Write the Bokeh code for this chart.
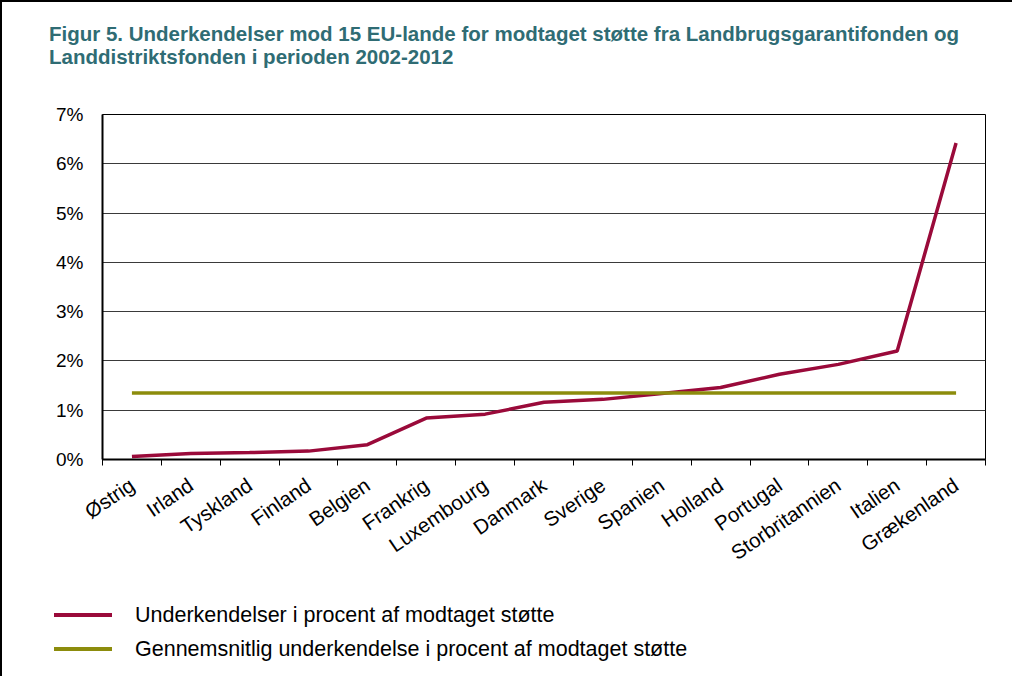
import numpy as np
from bokeh.plotting import figure
from bokeh.layouts import column
from bokeh.models import Range1d, FixedTicker, PrintfTickFormatter, Div
from bokeh.embed import file_html
from bokeh.resources import INLINE

COUNTRIES = ["Østrig", "Irland", "Tyskland", "Finland", "Belgien", "Frankrig",
             "Luxembourg", "Danmark", "Sverige", "Spanien", "Holland",
             "Portugal", "Storbritannien", "Italien", "Grækenland"]
UNDERKENDELSE_PCT = [0.06, 0.12, 0.14, 0.17, 0.30, 0.84, 0.92, 1.16, 1.22,
                     1.34, 1.46, 1.73, 1.93, 2.20, 6.42]
GENNEMSNIT_PCT = 1.35
Y_TICKS = [0, 1, 2, 3, 4, 5, 6, 7]
TITLE_LINE_1 = "Figur 5. Underkendelser mod 15 EU-lande for modtaget støtte fra Landbrugsgarantifonden og"
TITLE_LINE_2 = "Landdistriktsfonden i perioden 2002-2012"
LEGEND_LABELS = ["Underkendelser i procent af modtaget støtte",
                 "Gennemsnitlig underkendelse i procent af modtaget støtte"]

FONT = "Liberation Sans"
RED = "#9A0A3A"
OLIVE = "#8C8C0C"
TEAL = "#2F6C74"

n = len(COUNTRIES)
xs = np.arange(n)
W = 1010

# ---------------- title ----------------
tstyle = (f"position:absolute;left:47px;white-space:nowrap;"
          f"font-family:'{FONT}';font-size:20.5px;font-weight:bold;"
          f"line-height:23px;height:23px;color:{TEAL};")
title_html = f"""
<div style="position:relative;width:{W}px;height:80px;">
  <div style="{tstyle}top:20px;">{TITLE_LINE_1}</div>
  <div style="{tstyle}top:43px;">{TITLE_LINE_2}</div>
</div>"""
title_div = Div(text=title_html, width=W, height=80, margin=0)

# ---------------- main chart ----------------
p = figure(width=W, height=505, x_range=Range1d(-0.5, n - 0.5),
           y_range=Range1d(0, 7), output_backend="svg", toolbar_location=None,
           min_border_left=100, min_border_right=27, min_border_top=32,
           min_border_bottom=128, margin=0)

p.outline_line_color = "black"
p.outline_line_width = 1
p.background_fill_color = "white"
p.border_fill_color = "white"

p.yaxis.ticker = FixedTicker(ticks=Y_TICKS)
p.yaxis.formatter = PrintfTickFormatter(format="%d%%")
p.yaxis.major_label_text_font = FONT
p.yaxis.major_label_text_font_size = "19px"
p.yaxis.major_label_text_color = "black"
p.yaxis.major_label_standoff = 19
p.yaxis.major_tick_out = 0
p.yaxis.major_tick_in = 0
p.yaxis.minor_tick_out = 0
p.yaxis.minor_tick_in = 0
p.yaxis.axis_line_width = 2
p.yaxis.axis_line_color = "black"

p.ygrid.ticker = FixedTicker(ticks=Y_TICKS)
p.ygrid.grid_line_color = "#3a3a3a"
p.ygrid.grid_line_width = 1
p.xgrid.grid_line_color = None

p.xaxis.ticker = FixedTicker(ticks=list(xs),
                             minor_ticks=list(np.arange(n + 1) - 0.5))
p.xaxis.major_label_overrides = {int(i): c for i, c in zip(xs, COUNTRIES)}
p.xaxis.major_label_orientation = 0.6
p.xaxis.major_label_text_font = FONT
p.xaxis.major_label_text_font_size = "20.5px"
p.xaxis.major_label_text_color = "black"
p.xaxis.major_label_standoff = 17
p.xaxis.major_tick_line_color = None
p.xaxis.minor_tick_out = 6
p.xaxis.minor_tick_in = 0
p.xaxis.minor_tick_line_color = "black"
p.xaxis.minor_tick_line_width = 1
p.xaxis.axis_line_width = 2
p.xaxis.axis_line_color = "black"

p.line(xs, UNDERKENDELSE_PCT, line_color=RED, line_width=3.5)
p.line([xs[0], xs[-1]], [GENNEMSNIT_PCT, GENNEMSNIT_PCT],
       line_color=OLIVE, line_width=3.5)

# ---------------- legend ----------------
legend_html = f"""
<div style="position:relative;width:{W}px;height:89px;
            font-family:'{FONT}';font-size:21.5px;color:black;">
  <div style="position:absolute;left:52px;top:26px;width:58px;height:4px;
              background:{RED};"></div>
  <div style="position:absolute;left:133px;top:16px;line-height:24px;
              white-space:nowrap;">{LEGEND_LABELS[0]}</div>
  <div style="position:absolute;left:52px;top:60px;width:58px;height:4px;
              background:{OLIVE};"></div>
  <div style="position:absolute;left:133px;top:50px;line-height:24px;
              white-space:nowrap;">{LEGEND_LABELS[1]}</div>
</div>"""
legend_div = Div(text=legend_html, width=W, height=89, margin=0)

layout = column(title_div, p, legend_div, spacing=0)
layout.styles = {"border-left": "2px solid black",
                 "border-top": "2px solid black"}

open("out.html", "w").write(file_html(layout, INLINE))
